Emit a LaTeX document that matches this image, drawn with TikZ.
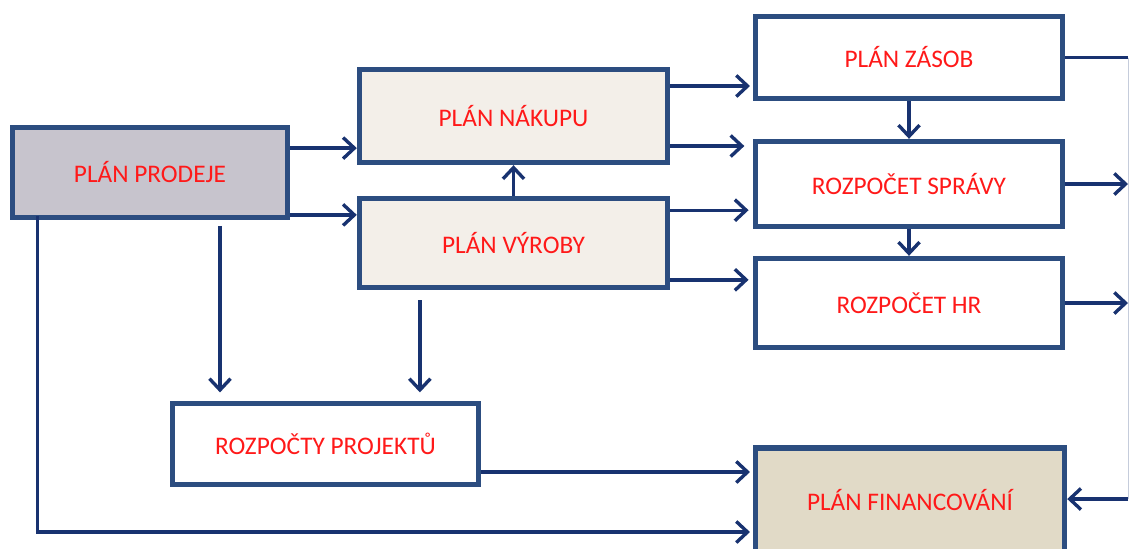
\documentclass[tikz,border=0pt]{standalone}
\usepackage{fontspec}
\setmainfont{Carlito}
\usepackage{xcolor}
\usepackage{tikz}
\usetikzlibrary{calc}
\usetikzlibrary{arrows.meta}
\definecolor{boxline}{RGB}{44,77,128}
\definecolor{arrline}{RGB}{24,50,112}
\definecolor{prodfill}{RGB}{199,196,205}
\definecolor{planfill}{RGB}{243,239,233}
\definecolor{finfill}{RGB}{225,218,199}
\definecolor{planred}{RGB}{255,25,25}

\begin{document}
\begin{tikzpicture}[
  x=0.025cm, y=-0.025cm,
  plan/.style={rectangle,draw=boxline,line width=3.8pt,fill=white,
    text=planred,font=\fontsize{18}{21}\selectfont,inner sep=0pt},
  arr/.style={draw=arrline,line width=2.4pt,-{Straight Barb[length=8pt,width=15pt]}},
  bus/.style={draw=arrline!25,line width=0.7pt}
]
  \useasboundingbox (0,0) rectangle (1129,548);

  \node[plan,fill=prodfill,minimum width=6.875cm,minimum height=2.25cm] (prodej) at (150,172.5) {PLÁN PRODEJE};
  \node[plan,fill=planfill,minimum width=7.7cm,minimum height=2.325cm] (nakup) at (513.5,116) {PLÁN NÁKUPU};
  \node[plan,fill=planfill,minimum width=7.7cm,minimum height=2.225cm] (vyroba) at (513.5,243) {PLÁN VÝROBY};
  \node[plan,minimum width=7.675cm,minimum height=2.05cm] (zasob) at (909,57.5) {PLÁN ZÁSOB};
  \node[plan,minimum width=7.675cm,minimum height=2.125cm] (sprava) at (909,184) {ROZPOČET SPRÁVY};
  \node[plan,minimum width=7.675cm,minimum height=2.225cm] (hr) at (909,303) {ROZPOČET HR};
  \node[plan,minimum width=7.65cm,minimum height=2.025cm] (projekty) at (325.5,444) {ROZPOČTY PROJEKTŮ};
  \node[plan,fill=finfill,minimum width=7.725cm,minimum height=2.6cm] (financ) at (910,500) {PLÁN FINANCOVÁNÍ};

  \coordinate (busT) at (1128,57.5);
  \coordinate (busB) at (1128,499);
  \draw[bus] (busT) -- (busB);

  \draw[arr] ([yshift=0.61cm]prodej.east) -- ([yshift=0.61cm]prodej.east -| nakup.west);
  \draw[arr] ([yshift=-1.06cm]prodej.east) -- ([yshift=-1.06cm]prodej.east -| vyroba.west);
  \draw[arr,shorten <=4pt,shorten >=6pt] ([xshift=1.75cm]prodej.south) -- ([xshift=1.75cm]prodej.south |- projekty.north);
  \draw[arr,shorten <=7pt,shorten >=6pt] ([xshift=-2.34cm]vyroba.south) -- ([xshift=-2.34cm]vyroba.south |- projekty.north);
  \draw[arr] (vyroba.north) -- (nakup.south);
  \draw[arr,shorten >=2pt] ([yshift=0.75cm]nakup.east) -- ([yshift=0.75cm]nakup.east -| zasob.west);
  \draw[arr,shorten >=6pt] ([yshift=-0.75cm]nakup.east) -- ([yshift=-0.75cm]nakup.east -| sprava.west);
  \draw[arr,shorten >=3pt] ([yshift=0.82cm]vyroba.east) -- ([yshift=0.82cm]vyroba.east -| sprava.west);
  \draw[arr,shorten >=3pt] ([yshift=-0.92cm]vyroba.east) -- ([yshift=-0.92cm]vyroba.east -| hr.west);
  \draw[arr] (zasob.south) -- (sprava.north);
  \draw[arr] (sprava.south) -- (hr.north);
  \draw[arr] (sprava.east) -- (sprava.east -| busT);
  \draw[arr] (hr.east) -- (hr.east -| busT);
  \draw[arr,-] (zasob.east) -- (busT);
  \draw[arr] (busB) -- (busB -| financ.east);
  \draw[arr,shorten >=2pt] ([yshift=-0.7cm]projekty.east) -- ([yshift=-0.7cm]projekty.east -| financ.west);
  \draw[arr,shorten >=2pt] ([xshift=0.69cm,yshift=0.1cm]prodej.south west) |- ([yshift=-0.8cm]financ.west);
\end{tikzpicture}
\end{document}
